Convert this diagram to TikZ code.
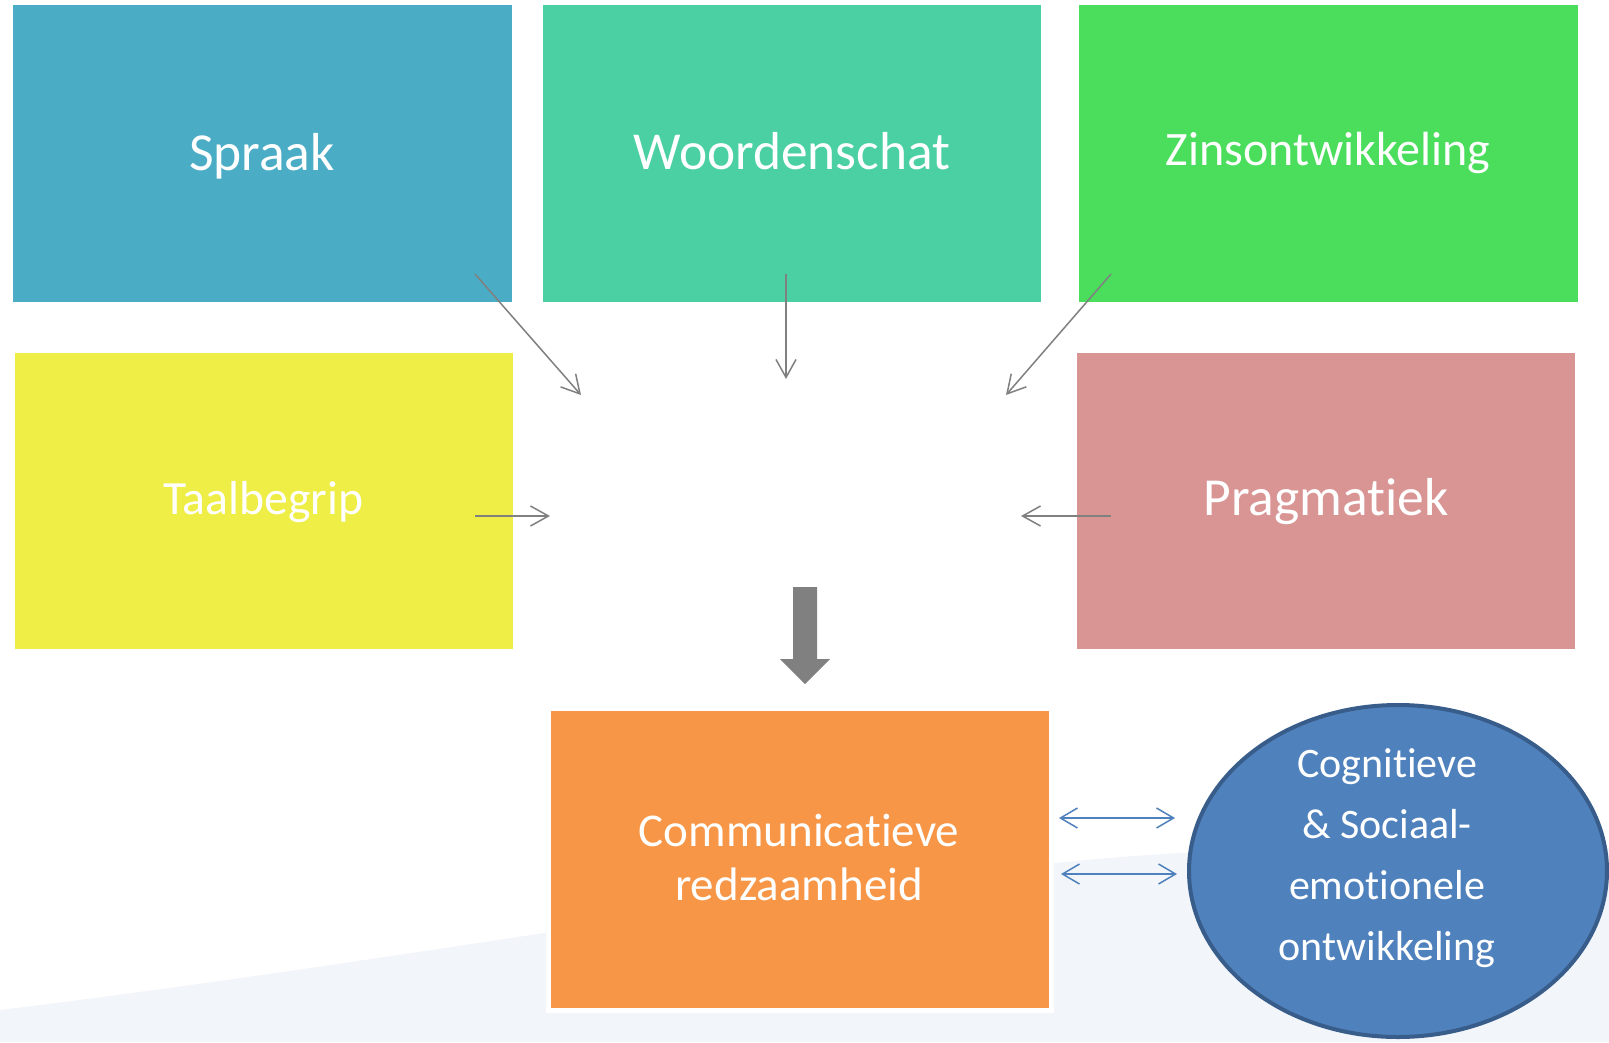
\documentclass[tikz,border=0pt]{standalone}
\usepackage{fontspec}
\setmainfont{Carlito}[Ligatures=NoCommon]
\usetikzlibrary{arrows.meta,shapes.geometric}
\definecolor{cSpraak}{HTML}{4BACC6}
\definecolor{cWoord}{HTML}{4BD0A4}
\definecolor{cZins}{HTML}{4ADE5C}
\definecolor{cTaal}{HTML}{EEEE46}
\definecolor{cPrag}{HTML}{D99594}
\definecolor{cComm}{HTML}{F79646}
\definecolor{cEll}{HTML}{4F81BD}
\definecolor{cEllBorder}{HTML}{385D8A}
\definecolor{arrowgray}{HTML}{808080}
\definecolor{bggray}{HTML}{F2F5F9}
\begin{document}
\begin{tikzpicture}[x=1pt,y=-1pt,
  box/.style={rectangle, inner sep=0pt,
    minimum width=498pt, minimum height=297pt},
  lbl/.style={text=white, inner sep=0pt, anchor=base},
  mlbl/.style={text=white, inner sep=0pt, align=center, anchor=north},
  thinarrow/.style={draw=arrowgray, line width=1.5pt,
    -{Straight Barb[length=18pt,width=20pt,line width=1.5pt]}},
  bluearrow/.style={draw=cEll, line width=1.5pt,
    {Straight Barb[length=17pt,width=20pt,line width=1.5pt]}-{Straight Barb[length=17pt,width=20pt,line width=1.5pt]}},
  blockarrow/.style={fill=arrowgray}
]
\fill[white] (0,0) rectangle (1609,1042);
\useasboundingbox (0,0) rectangle (1609,1042);
% background swoosh
\fill[bggray] (0,1010) .. controls (450,955) and (900,868) .. (1180,853)
  -- (1609,848) -- (1609,1042) -- (0,1042) -- cycle;

% boxes
\node[box, fill=cSpraak, minimum width=499pt] (spraak) at (262,153.5) {};
\node[box, fill=cWoord] (woord) at (792,153.5) {};
\node[box, fill=cZins, minimum width=499pt] (zins) at (1328,153.5) {};
\node[box, fill=cTaal, minimum height=296pt] (taal) at (263.5,501) {};
\node[box, fill=cPrag, minimum height=296pt] (prag) at (1326,501) {};
\node[box, fill=cComm, draw=white, line width=5pt,
  minimum width=503pt, minimum height=302pt] (comm) at (800,859.5) {};
\node[ellipse, fill=cEll, draw=cEllBorder, line width=4pt, inner sep=0pt,
  minimum width=418pt, minimum height=332pt] (ell) at (1398,871) {};

% labels
\node[lbl, font=\fontsize{53.5pt}{64pt}\selectfont] (spraakT) at (spraak.center |- 0,170.6) {Spraak};
\node[lbl, font=\fontsize{53.4pt}{64pt}\selectfont] (woordT) at (woord.center |- 0,169.3) {Woordenschat};
\node[lbl, font=\fontsize{48pt}{58pt}\selectfont] (zinsT) at (zins.center |- 0,165.7) {Zinsontwikkeling};
\node[lbl, font=\fontsize{47.7pt}{58pt}\selectfont] (taalT) at (taal.center |- 0,514.3) {Taalbegrip};
\node[lbl, font=\fontsize{53.5pt}{64pt}\selectfont] (pragT) at (prag.center |- 0,515) {Pragmatiek};
\node[mlbl, font=\fontsize{47pt}{53.3pt}\selectfont] (commT) at (799,806.7)
  {\rule{0pt}{40pt}Communicatieve\\redzaamheid};
\node[mlbl, font=\fontsize{42pt}{61pt}\selectfont] (ellT) at (1387,737.3)
  {\rule{0pt}{40pt}Cognitieve\\\& Sociaal-\\emotionele\\ontwikkeling};

% connector end points
\coordinate (s1) at (475,274);
\coordinate (e1) at (581,395);
\coordinate (s2) at (786,274);
\coordinate (e2) at (786,379);
\coordinate (s3) at (1111,274);
\coordinate (e3) at (1006,395);
\coordinate (s4) at (475,516);
\coordinate (e4) at (550,516);
\coordinate (s5) at (1111,516);
\coordinate (e5) at (1021,516);
\coordinate (d1a) at (1059,818);
\coordinate (d1b) at (1175,818);
\coordinate (d2a) at (1061,874);
\coordinate (d2b) at (1177,874);

\draw[thinarrow] (s1) -- (e1);
\draw[thinarrow] (s2) -- (e2);
\draw[thinarrow] (s3) -- (e3);
\draw[thinarrow] (s4) -- (e4);
\draw[thinarrow] (s5) -- (e5);
\draw[bluearrow] (d1a) -- (d1b);
\draw[bluearrow] (d2a) -- (d2b);

% block arrow
\fill[blockarrow] (793,587) -- (817,587) -- (817,659) -- (830,659) -- (805,684)
  -- (780,659) -- (793,659) -- cycle;
\end{tikzpicture}
\end{document}
